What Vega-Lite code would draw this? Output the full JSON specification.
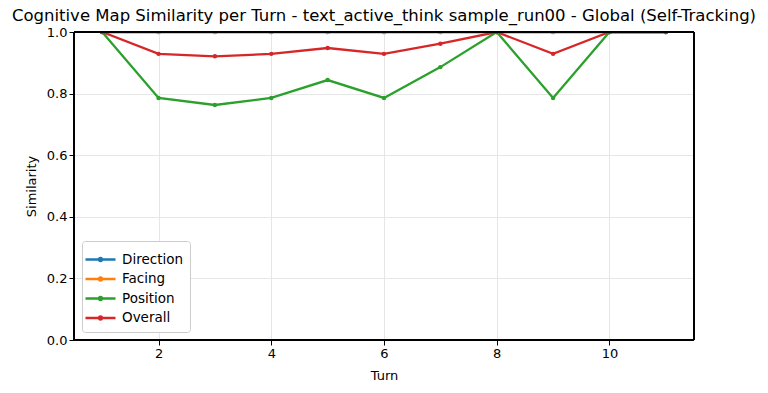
{
  "$schema": "https://vega.github.io/schema/vega-lite/v6.json",
  "width": 620,
  "height": 308,
  "autosize": {"type": "none"},
  "padding": {"left": 74, "top": 32, "right": 74, "bottom": 53},
  "background": "white",
  "title": {"text": "Cognitive Map Similarity per Turn - text_active_think sample_run00 - Global (Self-Tracking)", "font": "DejaVu Sans", "fontSize": 16.5, "fontWeight": "normal", "color": "black", "offset": 2},
  "config": {
    "view": {"stroke": null},
    "font": "DejaVu Sans",
    "axis": {"labelFont": "DejaVu Sans", "titleFont": "DejaVu Sans", "labelFontSize": 13, "titleFontSize": 13, "titleFontWeight": "normal", "labelColor": "black", "titleColor": "black", "tickColor": "black", "domainColor": "black", "tickSize": 5, "gridColor": "#e6e6e6", "gridWidth": 1}
  },
  "data": {"values": [
    {"turn": 1, "metric": "Direction", "value": 1.0},
    {"turn": 2, "metric": "Direction", "value": 1.0},
    {"turn": 3, "metric": "Direction", "value": 1.0},
    {"turn": 4, "metric": "Direction", "value": 1.0},
    {"turn": 5, "metric": "Direction", "value": 1.0},
    {"turn": 6, "metric": "Direction", "value": 1.0},
    {"turn": 7, "metric": "Direction", "value": 1.0},
    {"turn": 8, "metric": "Direction", "value": 1.0},
    {"turn": 9, "metric": "Direction", "value": 1.0},
    {"turn": 10, "metric": "Direction", "value": 1.0},
    {"turn": 11, "metric": "Direction", "value": 1.0},
    {"turn": 1, "metric": "Facing", "value": 1.0},
    {"turn": 2, "metric": "Facing", "value": 1.0},
    {"turn": 3, "metric": "Facing", "value": 1.0},
    {"turn": 4, "metric": "Facing", "value": 1.0},
    {"turn": 5, "metric": "Facing", "value": 1.0},
    {"turn": 6, "metric": "Facing", "value": 1.0},
    {"turn": 7, "metric": "Facing", "value": 1.0},
    {"turn": 8, "metric": "Facing", "value": 1.0},
    {"turn": 9, "metric": "Facing", "value": 1.0},
    {"turn": 10, "metric": "Facing", "value": 1.0},
    {"turn": 11, "metric": "Facing", "value": 1.0},
    {"turn": 1, "metric": "Position", "value": 1.0},
    {"turn": 2, "metric": "Position", "value": 0.786},
    {"turn": 3, "metric": "Position", "value": 0.763},
    {"turn": 4, "metric": "Position", "value": 0.786},
    {"turn": 5, "metric": "Position", "value": 0.844},
    {"turn": 6, "metric": "Position", "value": 0.786},
    {"turn": 7, "metric": "Position", "value": 0.886},
    {"turn": 8, "metric": "Position", "value": 1.0},
    {"turn": 9, "metric": "Position", "value": 0.786},
    {"turn": 10, "metric": "Position", "value": 1.0},
    {"turn": 11, "metric": "Position", "value": 1.0},
    {"turn": 1, "metric": "Overall", "value": 1.0},
    {"turn": 2, "metric": "Overall", "value": 0.929},
    {"turn": 3, "metric": "Overall", "value": 0.921},
    {"turn": 4, "metric": "Overall", "value": 0.929},
    {"turn": 5, "metric": "Overall", "value": 0.948},
    {"turn": 6, "metric": "Overall", "value": 0.929},
    {"turn": 7, "metric": "Overall", "value": 0.962},
    {"turn": 8, "metric": "Overall", "value": 1.0},
    {"turn": 9, "metric": "Overall", "value": 0.929},
    {"turn": 10, "metric": "Overall", "value": 1.0},
    {"turn": 11, "metric": "Overall", "value": 1.0}
  ]},
  "layer": [
    {
      "mark": {"type": "line", "strokeWidth": 2.3, "clip": true, "point": {"filled": true, "size": 20, "clip": true}},
      "encoding": {
        "x": {"field": "turn", "type": "quantitative", "title": "Turn", "scale": {"domain": [0.5, 11.5], "nice": false, "zero": false}, "axis": {"values": [2, 4, 6, 8, 10], "format": "d", "grid": true, "domain": false, "titlePadding": 9}},
        "y": {"field": "value", "type": "quantitative", "title": "Similarity", "scale": {"domain": [0, 1], "nice": false}, "axis": {"values": [0, 0.2, 0.4, 0.6, 0.8, 1.0], "format": ".1f", "grid": true, "domain": false, "titlePadding": 8}},
        "color": {"field": "metric", "type": "nominal", "title": null,
          "scale": {"domain": ["Direction", "Facing", "Position", "Overall"], "range": ["#1f77b4", "#ff7f0e", "#2ca02c", "#d62728"]},
          "legend": {"orient": "bottom-left", "offset": 8, "labelFont": "DejaVu Sans", "labelFontSize": 13.5, "labelColor": "black", "symbolType": "M-1.5,0H1.5M-0.15,0a0.15,0.15 0 1,0 0.3,0a0.15,0.15 0 1,0 -0.3,0", "symbolSize": 400, "symbolStrokeWidth": 2.3, "symbolFillColor": "transparent", "rowPadding": 1.5, "padding": 7, "strokeColor": "#cccccc", "fillColor": "white", "cornerRadius": 3, "labelOffset": 10}
        },
        "order": {"field": "turn"}
      }
    },
    {
      "mark": {"type": "rect", "fill": null, "fillOpacity": 0, "stroke": "black", "strokeWidth": 1},
      "encoding": {
        "x": {"datum": 0.5, "type": "quantitative"},
        "x2": {"datum": 11.5},
        "y": {"datum": 0, "type": "quantitative"},
        "y2": {"datum": 1}
      }
    }
  ]
}
